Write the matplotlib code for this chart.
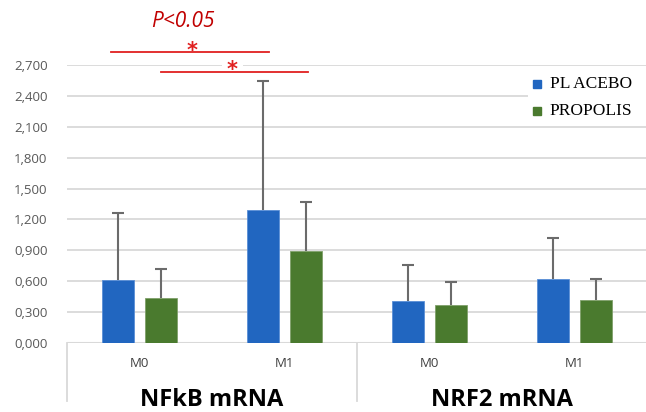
import numpy as np
import matplotlib
matplotlib.use('Agg')
from matplotlib import pyplot as plt
from matplotlib.patches import Rectangle

# data
times = ['M0', 'M1', 'M0', 'M1']
genes = ['NFkB mRNA', 'NRF2 mRNA']
placebo = [0.610, 1.290, 0.408, 0.624]
placeboErr = [0.655, 1.255, 0.350, 0.392]
propolis = [0.434, 0.896, 0.366, 0.420]
propolisErr = [0.282, 0.473, 0.226, 0.198]
yticks = np.arange(0, 2.71, 0.3)

blue = '#2166c0'
green = '#4a7a2e'
gridCol = '#d9d9d9'
errCol = '#6b6b6b'
red = '#e02020'

fig = plt.figure(figsize=(6.46, 4.12), dpi=100)
ax = fig.add_axes([67/646, 69/412, 580/646, 278/412])

x = np.arange(len(times))
w = 0.225
off = 0.147
ax.bar(x - off, placebo, w, color=blue, edgecolor='#5a8fd6', linewidth=0.6, zorder=3)
ax.bar(x + off, propolis, w, color=green, edgecolor='#7fa06a', linewidth=0.6, zorder=3)
for xs, vals, errs in [(x - off, placebo, placeboErr), (x + off, propolis, propolisErr)]:
    eb = ax.errorbar(xs, vals, yerr=[np.zeros(4), errs], fmt='none',
                     ecolor=errCol, elinewidth=1.5, capsize=4.5, capthick=1.5, zorder=4)
    eb[1][0].set_visible(False)  # no cap at the bar top

ax.set_xlim(-0.5, 3.5)
ax.set_ylim(0, 2.7)
ax.set_yticks(yticks)
ax.set_yticklabels([('%.3f' % t).replace('.', ',') for t in yticks],
                   fontsize=9.5, color='#595959', family='Open Sans')
for t in yticks[1:]:
    ax.axhline(t, color=gridCol, lw=1.3, zorder=1)
ax.axhline(0, color=gridCol, lw=1.5, zorder=2)
ax.tick_params(axis='y', length=0, pad=14)
ax.set_xticks([])
for s in ax.spines.values():
    s.set_visible(False)

# category labels and group separators below the axis
for xi, t in zip(x, times):
    ax.text(xi, -0.2, t, ha='center', va='center', fontsize=9.5,
            color='#404040', family='Open Sans')
for gi, g in enumerate(genes):
    ax.text(0.5 + 2*gi, -0.55, g, ha='center', va='center', fontsize=17,
            fontweight='bold', color='black', family='Open Sans')
for xs in [-0.5, 1.5]:
    ax.plot([xs, xs], [0, -0.56], color=gridCol, lw=1.3, clip_on=False)

# legend (white box over the grid)
ax.add_patch(Rectangle((2.68, 2.16), 0.85, 0.47, facecolor='white',
                       edgecolor='none', zorder=5, clip_on=False))
ax.plot([2.74], [2.52], marker='s', ms=6, color=blue, ls='none', zorder=6)
ax.plot([2.74], [2.255], marker='s', ms=6, color=green, ls='none', zorder=6)
ax.text(2.83, 2.52, 'PL ACEBO', ha='left', va='center', fontsize=12.5,
        family='Liberation Serif', color='black', zorder=6)
ax.text(2.83, 2.255, 'PROPOLIS', ha='left', va='center', fontsize=12.5,
        family='Liberation Serif', color='black', zorder=6)

# significance marks
ax.plot([-0.197, 0.893], [2.825, 2.825], color=red, lw=1.3, clip_on=False, zorder=6)
ax.plot([0.148, 1.162], [2.633, 2.633], color=red, lw=1.3, clip_on=False, zorder=6)
ax.add_patch(Rectangle((0.57, 2.66), 0.145, 0.08, facecolor='white',
                       edgecolor='none', zorder=5, clip_on=False))
ax.text(0.36, 2.84, '*', ha='center', va='center', fontsize=15, fontweight='bold',
        color=red, clip_on=False, zorder=7)
ax.text(0.64, 2.655, '*', ha='center', va='center', fontsize=15, fontweight='bold',
        color=red, clip_on=False, zorder=7)
ax.text(0.30, 3.12, 'P<0.05', ha='center', va='center', fontsize=15,
        style='italic', color='#c00000', family='Open Sans', clip_on=False)

fig.savefig('out.png', dpi=100)
